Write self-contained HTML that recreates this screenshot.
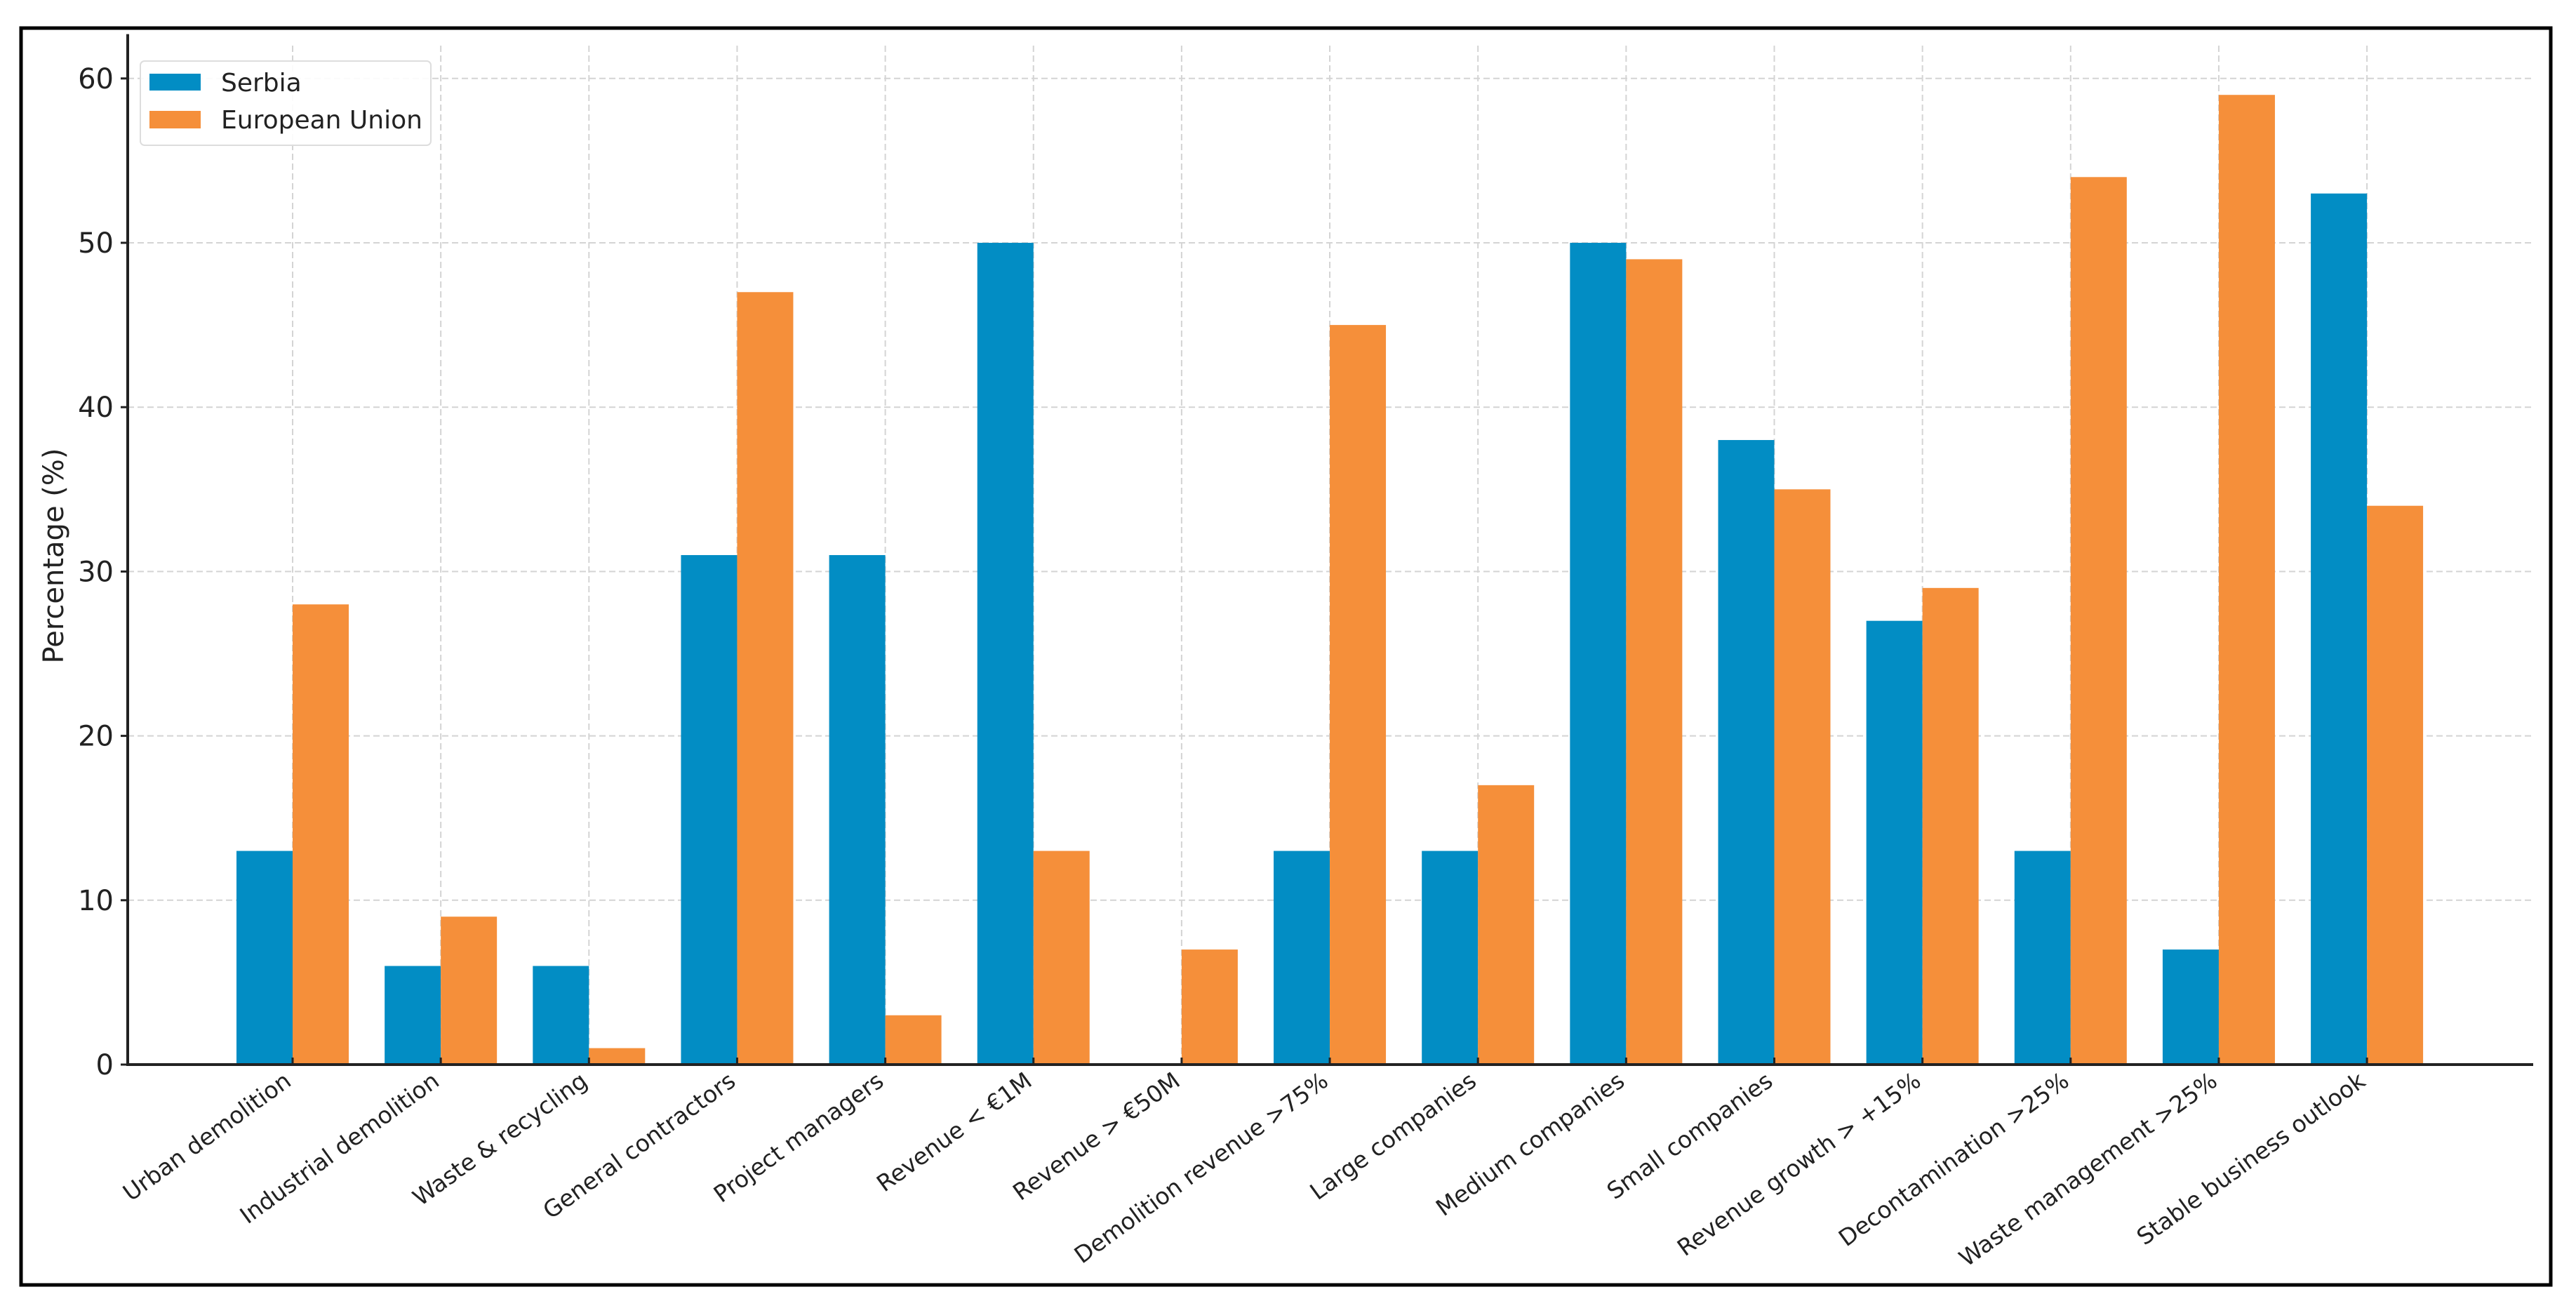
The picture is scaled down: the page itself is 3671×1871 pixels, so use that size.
<!DOCTYPE html>
<html><head><meta charset="utf-8"><style>
html,body{margin:0;padding:0;background:#fff;}
svg{display:block;font-family:"DejaVu Sans","Liberation Sans",sans-serif;}
</style></head><body>
<svg id="chart" width="3671" height="1871" viewBox="0 0 3671 1871" xmlns="http://www.w3.org/2000/svg">
<rect x="0" y="0" width="3671" height="1871" fill="#fff"/>
<rect x="30" y="40" width="3605" height="1791" fill="none" stroke="#000" stroke-width="5"/>
<g id="grid"></g><g id="bars"></g><g id="axes"></g><g id="labels"></g>
<text x="0" y="0" transform="translate(90,792) rotate(-90)" text-anchor="middle" font-size="40" fill="#222">Percentage (%)</text>
<g>
<rect x="200" y="87" width="414" height="120" rx="6" fill="#fff" fill-opacity="0.9" stroke="#ddd" stroke-width="2"/>
<rect x="213" y="105" width="73" height="24" fill="#028dc4"/>
<text x="315" y="130" font-size="36" fill="#222">Serbia</text>
<rect x="213" y="158" width="73" height="25" fill="#f58f3a"/>
<text x="315" y="183" font-size="36" fill="#222">European Union</text>
</g>
</svg>
<script>
const categories = ["Urban demolition","Industrial demolition","Waste & recycling","General contractors","Project managers","Revenue < €1M","Revenue > €50M","Demolition revenue >75%","Large companies","Medium companies","Small companies","Revenue growth > +15%","Decontamination >25%","Waste management >25%","Stable business outlook"];
const serbia = [13,6,6,31,31,50,0,13,13,50,38,27,13,7,53];
const eu = [28,9,1,47,3,13,7,45,17,49,35,29,54,59,34];
const yTicks = [0,10,20,30,40,50,60];

const NS="http://www.w3.org/2000/svg";
const x0=182, x1=3610, y0=1517, pxPerUnit=23.42;
const firstCenter=417, groupStep=211.15, barW=80;
const xc = i => firstCenter + i*groupStep;
const ys = v => y0 - v*pxPerUnit;
function mk(tag, attrs, parent){const e=document.createElementNS(NS,tag);for(const k in attrs)e.setAttribute(k,attrs[k]);parent.appendChild(e);return e;}
const grid=document.getElementById('grid'), bars=document.getElementById('bars'), axes=document.getElementById('axes'), labels=document.getElementById('labels');

yTicks.forEach(t=>{
  const y=ys(t);
  if(t>0){const g=mk('line',{x1:x0,x2:x1,y1:y,y2:y,stroke:'#d4d4d4','stroke-width':2,'stroke-dasharray':'9,5'},grid);
  
  }
  const tk=mk('line',{x1:x0-10,x2:x0,y1:y,y2:y,stroke:'#222','stroke-width':3},axes);
  
  
  const tl=mk('text',{x:x0-20,y:y+14,'text-anchor':'end','font-size':40,fill:'#222'},axes);
  
  
  tl.textContent=t;
});
categories.forEach((c,i)=>{
  const x=xc(i);
  const g=mk('line',{x1:x,x2:x,y1:ys(62),y2:y0,stroke:'#d4d4d4','stroke-width':2,'stroke-dasharray':'9,5'},grid);
  
  
  const b1=mk('rect',{x:x-barW,y:ys(serbia[i]),width:barW,height:y0-ys(serbia[i]),fill:'#028dc4'},bars);
  
  
  const b2=mk('rect',{x:x,y:ys(eu[i]),width:barW,height:y0-ys(eu[i]),fill:'#f58f3a'},bars);
  
  
  const tk=mk('line',{x1:x,x2:x,y1:y0,y2:y0-10,stroke:'#222','stroke-width':3},axes);
  
  
  const tl=mk('text',{x:0,y:0,'text-anchor':'end','font-size':33,fill:'#222',transform:`translate(${x},${y0+28}) rotate(-36)`},labels);
  
  
  tl.textContent=c;
});
const ya=mk('line',{x1:x0,x2:x0,y1:ys(62.7),y2:y0+2,stroke:'#222','stroke-width':4},axes);


const xa=mk('line',{x1:x0-2,x2:x1,y1:y0,y2:y0,stroke:'#222','stroke-width':4},axes);


</script>
</body></html>
